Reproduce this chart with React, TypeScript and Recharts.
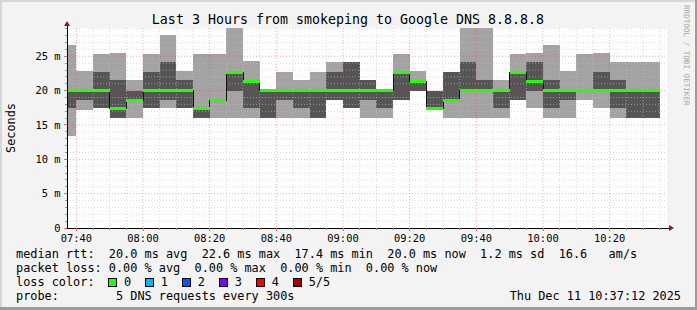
import React from 'react';
import { ComposedChart, Area, Line, XAxis, YAxis, CartesianGrid, ReferenceDot } from 'recharts';

// 5-minute slots, minutes after 07:00 (slot start)
const slotStartMin = [35, 40, 45, 50, 55, 60, 65, 70, 75, 80, 85, 90, 95, 100, 105, 110, 115, 120, 125, 130, 135, 140, 145, 150, 155, 160, 165, 170, 175, 180, 185, 190, 195, 200, 205, 210];
// sorted pings (ms): 1 (min), 2, 3 (median), 4, 5 (max)
const pingMin = [13.4, 17.2, 17.5, 16.0, 16.0, 17.5, 17.5, 17.5, 16.0, 16.0, 16.0, 16.0, 16.0, 16.0, 16.0, 16.0, 18.6, 17.5, 16.0, 16.0, 18.6, 20.0, 17.4, 16.0, 16.0, 16.0, 16.0, 18.6, 17.5, 16.0, 16.0, 18.6, 17.5, 16.0, 16.0, 16.0];
const ping2 = [17.5, 18.6, 17.5, 16.0, 18.6, 17.5, 18.6, 17.5, 16.0, 18.6, 20.0, 17.5, 16.0, 18.6, 17.5, 16.0, 18.6, 17.5, 18.6, 17.5, 18.6, 20.0, 17.4, 18.6, 20.0, 20.0, 17.5, 18.6, 20.0, 17.5, 18.6, 20.0, 20.0, 17.5, 16.0, 16.0];
const medianRtt = [20.0, 20.0, 20.0, 17.4, 18.6, 20.0, 20.0, 20.0, 17.4, 18.6, 22.6, 21.3, 20.0, 20.0, 20.0, 20.0, 20.0, 20.0, 20.0, 20.0, 22.6, 21.3, 17.4, 18.6, 20.0, 20.0, 20.0, 22.6, 21.3, 20.0, 20.0, 20.0, 20.0, 20.0, 20.0, 20.0];
const ping4 = [20.0, 20.0, 22.7, 21.5, 20.0, 22.7, 24.2, 21.5, 17.4, 18.6, 22.6, 21.3, 20.0, 20.0, 20.0, 20.0, 22.7, 24.2, 21.5, 20.0, 22.6, 21.3, 20.0, 22.7, 24.2, 21.5, 20.0, 22.6, 24.2, 21.5, 20.0, 20.0, 22.7, 21.5, 20.0, 20.0];
const pingMax = [26.6, 22.9, 25.3, 25.5, 21.5, 25.3, 28.1, 22.9, 25.3, 25.3, 30.0, 24.3, 20.0, 22.7, 21.5, 22.7, 24.2, 24.2, 21.5, 20.0, 25.3, 22.9, 20.0, 22.7, 30.0, 30.0, 21.5, 25.3, 25.5, 26.6, 22.9, 25.3, 25.5, 24.2, 24.2, 24.2];

const SLOT = 5;
const X_DOMAIN: [number, number] = [37.2, 217.2];
const Y_DOMAIN: [number, number] = [0, 29.12];
const xTicks = [40, 45, 50, 55, 60, 65, 70, 75, 80, 85, 90, 95, 100, 105, 110, 115, 120, 125, 130, 135, 140, 145, 150, 155, 160, 165, 170, 175, 180, 185, 190, 195, 200, 205, 210, 215];
const xMajor = [40, 60, 80, 100, 120, 140, 160, 180, 200];
const yTicks = [0, 1, 2, 3, 4, 5, 6, 7, 8, 9, 10, 11, 12, 13, 14, 15, 16, 17, 18, 19, 20, 21, 22, 23, 24, 25, 26, 27, 28, 29];
const yMajor = [0, 5, 10, 15, 20, 25];

const titleText = 'Last 3 Hours from smokeping to Google DNS 8.8.8.8';
const legendRows = [
  'median rtt:  20.0 ms avg  22.6 ms max  17.4 ms min  20.0 ms now  1.2 ms sd  16.6   am/s',
  'packet loss: 0.00 % avg  0.00 % max  0.00 % min  0.00 % now',
];
const lossLabels = ['0', '1', '2', '3', '4', '5/5'];
const lossColors = ['#26ff00', '#00b8ff', '#0059ff', '#7e00ff', '#ff0000', '#a10000'];
const probeText = 'probe:        5 DNS requests every 300s';
const dateText = 'Thu Dec 11 10:37:12 2025';

const MEDIAN_HALF = 0.22;

const rows = slotStartMin.map((t, i) => ({
  t,
  outer: [pingMin[i], pingMax[i]],
  inner: [ping2[i], ping4[i]],
  med: medianRtt[i],
  band: [medianRtt[i] - MEDIAN_HALF, medianRtt[i] + MEDIAN_HALF],
}));
const last = rows[rows.length - 1];
const data = [...rows, { ...last, t: last.t + SLOT }];

const MONO = '"DejaVu Sans Mono", monospace';

const fmtTime = (m: number) => {
  const h = 7 + Math.floor(m / 60);
  const mm = m % 60;
  return `${String(h).padStart(2, '0')}:${String(mm).padStart(2, '0')}`;
};

const XTick = (props: any) => {
  const { x, y, payload } = props;
  const v = payload.value as number;
  const major = xMajor.includes(v);
  return (
    <g>
      <line x1={x} x2={x} y1={y} y2={y + (major ? 3 : 2)} stroke={major ? '#e07070' : '#999'} shapeRendering="crispEdges" />
      {major && (
        <text x={x} y={y + 13.6} textAnchor="middle" fontFamily={MONO} fontSize={10.4} fill="#000">
          {fmtTime(v)}
        </text>
      )}
    </g>
  );
};

const YTick = (props: any) => {
  const { x, y, payload } = props;
  const v = payload.value as number;
  const major = yMajor.includes(v);
  return (
    <g>
      <line x1={x - (major ? 3 : 2)} x2={x} y1={y} y2={y} stroke={major ? '#e07070' : '#999'} shapeRendering="crispEdges" />
      {major && (
        <text x={x - 6.5} y={y + 3.8} textAnchor="end" fontFamily={MONO} fontSize={10.4} fill="#000" style={{ whiteSpace: 'pre' }}>
          {v === 0 ? '0' : `${v} m`}
        </text>
      )}
    </g>
  );
};

const UpArrow = (p: any) => (
  <g>
    <line x1={p.cx} x2={p.cx} y1={p.cy} y2={p.cy - 3} stroke="#000" shapeRendering="crispEdges" />
    <path d={`M${p.cx - 3},${p.cy - 2} L${p.cx + 3},${p.cy - 2} L${p.cx},${p.cy - 7} Z`} fill="#8b1a1a" />
  </g>
);
const RightArrow = (p: any) => (
  <g>
    <line x1={p.cx} x2={p.cx + 3} y1={p.cy} y2={p.cy} stroke="#000" shapeRendering="crispEdges" />
    <path d={`M${p.cx + 2},${p.cy - 3} L${p.cx + 2},${p.cy + 3} L${p.cx + 7},${p.cy} Z`} fill="#8b1a1a" />
  </g>
);

const minorY = yTicks.filter((v) => !yMajor.includes(v));
const minorX = xTicks.filter((v) => !xMajor.includes(v));

export default function App() {
  return (
    <div style={{ position: 'absolute', left: 0, top: 0, width: 697, height: 310, background: '#f3f3f3', overflow: 'hidden' }}>
      <ComposedChart width={697} height={310} data={data} margin={{ top: 28, right: 30, bottom: 62, left: 7 }}>
        <CartesianGrid fill="#ffffff" horizontal={false} vertical={false} />
        <XAxis
          dataKey="t"
          type="number"
          domain={X_DOMAIN}
          allowDataOverflow
          ticks={xTicks}
          interval={0}
          height={20}
          tickSize={0}
          tickMargin={0}
          tickLine={false}
          axisLine={{ stroke: '#000', shapeRendering: 'crispEdges' }}
          tick={<XTick />}
        />
        <YAxis
          type="number"
          domain={Y_DOMAIN}
          allowDataOverflow
          ticks={yTicks}
          interval={0}
          width={60}
          tickSize={0}
          tickMargin={0}
          tickLine={false}
          axisLine={{ stroke: '#000', shapeRendering: 'crispEdges' }}
          tick={<YTick />}
        />
        <Area dataKey="outer" type="stepAfter" stroke="none" fill="#a3a3a3" fillOpacity={1} isAnimationActive={false} shapeRendering="crispEdges" />
        <Area dataKey="inner" type="stepAfter" stroke="none" fill="#555555" fillOpacity={1} isAnimationActive={false} shapeRendering="crispEdges" />
        <CartesianGrid
          zIndex={150}
          horizontalValues={minorY}
          verticalValues={minorX}
          stroke="#c4c4c4"
          strokeOpacity={0.6}
          strokeDasharray="1 2"
        />
        <CartesianGrid
          zIndex={151}
          horizontalValues={yMajor.filter((v) => v > 0)}
          verticalValues={xMajor}
          stroke="#ff3030"
          strokeOpacity={0.4}
          strokeDasharray="1 2"
        />
        <Line dataKey="med" type="stepAfter" stroke="#111" strokeWidth={1} dot={false} activeDot={false} isAnimationActive={false} shapeRendering="crispEdges" />
        <Area zIndex={450} dataKey="band" type="stepAfter" stroke="none" fill="#26ff00" fillOpacity={1} isAnimationActive={false} shapeRendering="crispEdges" />
        <ReferenceDot x={X_DOMAIN[0]} y={Y_DOMAIN[1]} ifOverflow="visible" shape={<UpArrow />} />
        <ReferenceDot x={X_DOMAIN[1]} y={Y_DOMAIN[0]} ifOverflow="visible" shape={<RightArrow />} />
      </ComposedChart>
      <svg width={697} height={310} style={{ position: 'absolute', left: 0, top: 0, pointerEvents: 'none' }}>
        <rect x={0} y={0} width={697} height={2} fill="#d6d6d6" />
        <rect x={0} y={0} width={2} height={310} fill="#d6d6d6" />
        <rect x={0} y={307} width={697} height={3} fill="#9c9c9c" />
        <rect x={695} y={0} width={2} height={310} fill="#9c9c9c" />
        <text x={348} y={23.5} textAnchor="middle" fontFamily={MONO} fontSize={13.3} fill="#000">{titleText}</text>
        <text x={15} y={128} textAnchor="middle" fontFamily={MONO} fontSize={11.86} fill="#000" transform="rotate(-90 15 128)">Seconds</text>
        <text x={684} y={5} fontFamily={MONO} fontSize={7.6} fill="#a8a8a8" transform="rotate(90 684 5)">RRDTOOL / TOBI OETIKER</text>
        {legendRows.map((r, i) => (
          <text key={i} x={16} y={258.3 + i * 13.9} fontFamily={MONO} fontSize={11.86} fill="#000" style={{ whiteSpace: 'pre' }}>{r}</text>
        ))}
        <text x={16} y={286.1} fontFamily={MONO} fontSize={11.86} fill="#000">loss color:</text>
        {lossLabels.map((l, i) => (
          <g key={l}>
            <rect x={108.5 + i * 36.95} y={278.5} width={8} height={8} fill={lossColors[i]} stroke="#000" strokeWidth={1} shapeRendering="crispEdges" />
            <text x={108.3 + i * 36.95 + 15.6} y={286.1} fontFamily={MONO} fontSize={11.86} fill="#000">{l}</text>
          </g>
        ))}
        <text x={16} y={300} fontFamily={MONO} fontSize={11.86} fill="#000" style={{ whiteSpace: 'pre' }}>{probeText}</text>
        <text x={681} y={300} textAnchor="end" fontFamily={MONO} fontSize={11.86} fill="#000">{dateText}</text>
      </svg>
    </div>
  );
}
